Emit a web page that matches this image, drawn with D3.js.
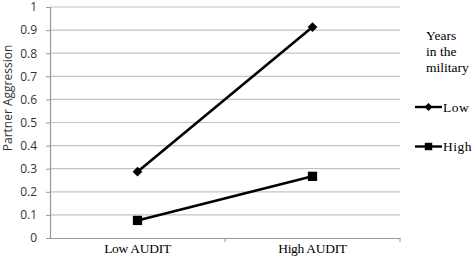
<!DOCTYPE html>
<html><head><meta charset="utf-8">
<script src="https://cdn.jsdelivr.net/npm/d3@7"></script>
<style>body{margin:0;background:#fff}</style>
</head><body>
<svg id="c" width="474" height="260"></svg>
<script>
const categories = ["Low AUDIT", "High AUDIT"];
const seriesNames = ["Low", "High"];
const lowYears = [0.287, 0.913];
const highYears = [0.076, 0.267];
const yTicks = [0, 0.1, 0.2, 0.3, 0.4, 0.5, 0.6, 0.7, 0.8, 0.9, 1];
const legendTitle = ["Years", "in the", "military"];
const yTitle = "Partner Aggression";

(function () {
const svg = d3.select("#c");
const mLeft = 50, mRight = 400, mTop = 7, mBottom = 238;
const x = d3.scaleBand().domain(categories).range([mLeft, mRight]);
const y = d3.scaleLinear().domain([0, 1]).range([mBottom, mTop]);

// gridlines
svg.append("g").selectAll("line").data(yTicks.slice(1)).join("line")
  .attr("x1", mLeft).attr("x2", mRight)
  .attr("y1", d => y(d)).attr("y2", d => y(d))
  .attr("stroke", "#c4c4c4").attr("stroke-width", 1.2);

// y axis
const ya = svg.append("g").attr("transform", `translate(${mLeft},0)`)
  .call(d3.axisLeft(y).tickValues(yTicks).tickSize(4).tickPadding(9).tickFormat(d => d3.format("")(d)));
ya.select(".domain").attr("stroke", "#999").attr("stroke-width", 1.2);
ya.selectAll(".tick line").attr("stroke", "#999");
ya.selectAll("text").attr("font-family", "Open Sans, sans-serif").attr("font-size", 12).attr("fill", "#333");

// x axis
const xa = svg.append("g").attr("transform", `translate(0,${mBottom})`)
  .call(d3.axisBottom(x).tickSize(0).tickPadding(5));
xa.select(".domain").attr("stroke", "#999").attr("stroke-width", 1.2);
xa.selectAll("text").attr("font-family", "Liberation Serif, serif").attr("font-size", 13.5)
  .attr("letter-spacing", -0.3).attr("fill", "#000");
const bounds = [x.range()[0] + x.bandwidth(), x.range()[1]];
svg.append("g").selectAll("line").data(bounds).join("line")
  .attr("x1", d => d).attr("x2", d => d).attr("y1", mBottom).attr("y2", mBottom + 4)
  .attr("stroke", "#999");

// y title
svg.append("text").attr("transform", "translate(11.5,98) rotate(-90)")
  .attr("text-anchor", "middle").attr("font-family", "Open Sans, sans-serif")
  .attr("font-size", 12).attr("fill", "#333").text(yTitle);

const cx = d => x(d) + x.bandwidth() / 2;
const line = d3.line().x((d, i) => cx(categories[i])).y(d => y(d));
[lowYears, highYears].forEach(s => {
  svg.append("path").attr("d", line(s)).attr("fill", "none").attr("stroke", "#000").attr("stroke-width", 2.6);
});
const diamond = d3.symbol().type(d3.symbolDiamond2).size(60);
const square = d3.symbol().type(d3.symbolSquare2).size(110);
svg.append("g").selectAll("path").data(lowYears).join("path")
  .attr("transform", (d, i) => `translate(${cx(categories[i])},${y(d)})`)
  .attr("d", diamond).attr("fill", "#000");
svg.append("g").selectAll("path").data(highYears).join("path")
  .attr("transform", (d, i) => `translate(${cx(categories[i])},${y(d)})`)
  .attr("d", square).attr("fill", "#000");

// legend
const lg = svg.append("g").attr("font-family", "Liberation Serif, serif").attr("font-size", 13.5).attr("fill", "#000");
lg.selectAll("text.t").data(legendTitle).join("text").attr("class", "t")
  .attr("x", 426).attr("y", (d, i) => 40 + i * 16).text(d => d);
const legY = [107, 146.5];
const syms = [d3.symbol().type(d3.symbolDiamond2).size(40), d3.symbol().type(d3.symbolSquare2).size(70)];
seriesNames.forEach((n, i) => {
  lg.append("line").attr("x1", 415).attr("x2", 442).attr("y1", legY[i]).attr("y2", legY[i])
    .attr("stroke", "#000").attr("stroke-width", 2.4);
  lg.append("path").attr("transform", `translate(428.5,${legY[i]})`).attr("d", syms[i]).attr("fill", "#000");
  lg.append("text").attr("x", 443).attr("y", legY[i] + 4.5).attr("letter-spacing", 0.5).text(n);
});
})();
</script>
</body></html>
